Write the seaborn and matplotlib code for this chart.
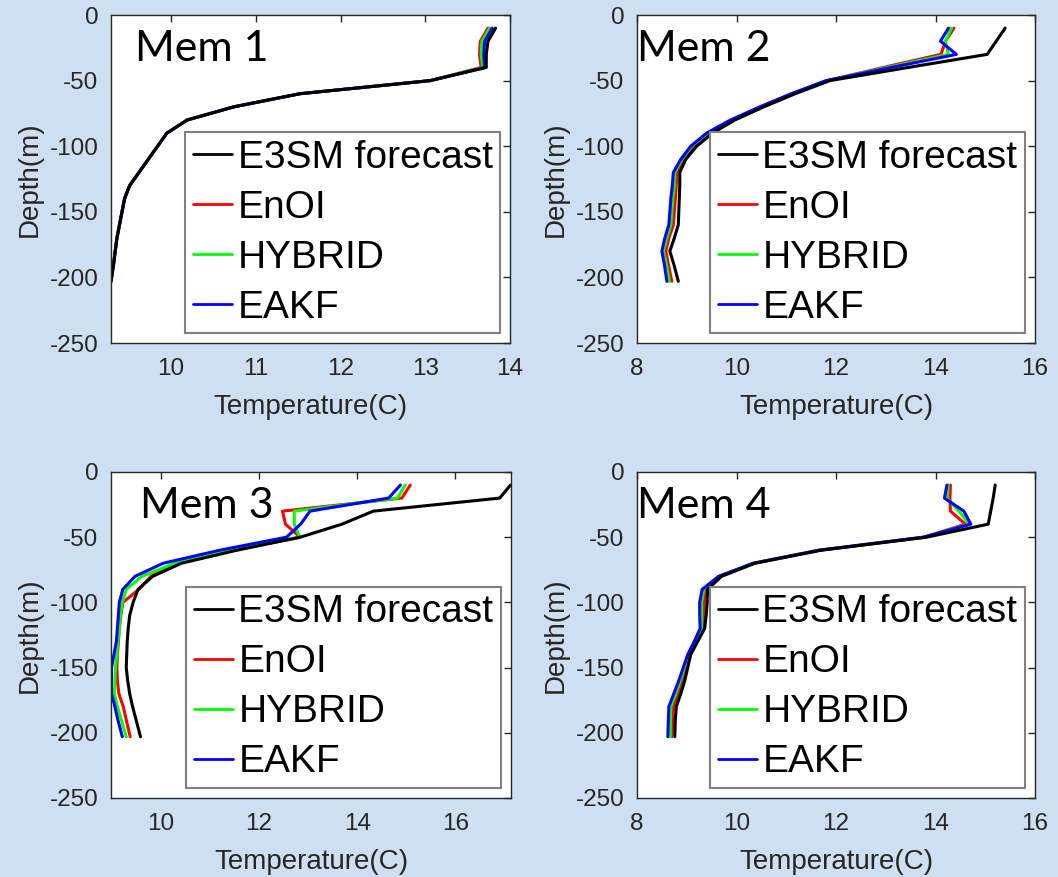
import matplotlib
matplotlib.use("Agg")
import matplotlib.pyplot as plt
from matplotlib.lines import Line2D
import numpy as np
import pandas as pd
import seaborn as sns

# ---------------- data ----------------
depth = [10, 20, 30, 40, 50, 60, 70, 80, 90, 100, 110, 120, 130, 140, 150, 160, 170, 180, 190, 203]
methods = ["E3SM forecast", "EnOI", "HYBRID", "EAKF"]
colors = ["#000000", "#ff0000", "#00ff00", "#0000ff"]
titles = ["Mem 1", "Mem 2", "Mem 3", "Mem 4"]

# Mem 1
e3sm_1 = [13.83, 13.74, 13.72, 13.72, 13.06, 11.52, 10.74, 10.19, 9.95, 9.84, 9.73, 9.62, 9.51, 9.45, 9.42, 9.39, 9.36, 9.34, 9.32, 9.29]
enoi_1 = [13.74, 13.65, 13.64, 13.66, 13.06, 11.52, 10.74, 10.19, 9.95, 9.84, 9.73, 9.62, 9.51, 9.45, 9.42, 9.39, 9.36, 9.34, 9.32, 9.29]
hybrid_1 = [13.76, 13.67, 13.66, 13.68, 13.06, 11.52, 10.74, 10.19, 9.95, 9.84, 9.73, 9.62, 9.51, 9.45, 9.42, 9.39, 9.36, 9.34, 9.32, 9.29]
eakf_1 = [13.79, 13.70, 13.69, 13.70, 13.06, 11.52, 10.74, 10.19, 9.95, 9.84, 9.73, 9.62, 9.51, 9.45, 9.42, 9.39, 9.36, 9.34, 9.32, 9.29]

# Mem 2
e3sm_2 = [15.40, 15.22, 15.04, 13.45, 11.88, 11.18, 10.55, 9.97, 9.52, 9.20, 8.98, 8.86, 8.86, 8.85, 8.84, 8.83, 8.75, 8.66, 8.74, 8.83]
enoi_2 = [14.37, 14.20, 14.11, 12.95, 11.83, 11.13, 10.50, 9.93, 9.45, 9.13, 8.93, 8.80, 8.79, 8.77, 8.75, 8.73, 8.64, 8.58, 8.63, 8.70]
hybrid_2 = [14.32, 14.20, 14.26, 13.03, 11.82, 11.12, 10.49, 9.90, 9.42, 9.10, 8.90, 8.76, 8.75, 8.72, 8.70, 8.68, 8.60, 8.53, 8.59, 8.65]
eakf_2 = [14.26, 14.10, 14.42, 13.11, 11.80, 11.10, 10.47, 9.88, 9.40, 9.08, 8.88, 8.73, 8.71, 8.68, 8.66, 8.64, 8.56, 8.50, 8.55, 8.60]

# Mem 3
e3sm_3 = [17.12, 16.90, 14.33, 13.69, 12.84, 11.55, 10.42, 9.84, 9.54, 9.44, 9.37, 9.34, 9.32, 9.31, 9.30, 9.33, 9.37, 9.43, 9.50, 9.59]
enoi_3 = [15.08, 14.91, 12.48, 12.54, 12.84, 11.48, 10.36, 9.80, 9.56, 9.23, 9.19, 9.16, 9.14, 9.12, 9.11, 9.12, 9.15, 9.24, 9.30, 9.38]
hybrid_3 = [14.98, 14.82, 12.72, 12.72, 12.83, 11.38, 10.29, 9.62, 9.30, 9.22, 9.18, 9.16, 9.13, 9.11, 9.08, 9.07, 9.06, 9.12, 9.20, 9.30]
eakf_3 = [14.88, 14.64, 13.04, 12.85, 12.56, 11.20, 10.05, 9.48, 9.23, 9.16, 9.14, 9.12, 9.10, 9.05, 9.00, 9.00, 9.00, 9.07, 9.13, 9.22]

# Mem 4
e3sm_4 = [15.20, 15.16, 15.11, 15.06, 13.82, 11.70, 10.37, 9.70, 9.42, 9.41, 9.39, 9.36, 9.22, 9.08, 9.02, 8.96, 8.88, 8.79, 8.77, 8.76]
enoi_4 = [14.30, 14.29, 14.30, 14.60, 13.78, 11.67, 10.35, 9.67, 9.37, 9.35, 9.34, 9.32, 9.19, 9.05, 8.98, 8.91, 8.83, 8.73, 8.72, 8.70]
hybrid_4 = [14.26, 14.23, 14.47, 14.68, 13.76, 11.66, 10.34, 9.65, 9.34, 9.30, 9.30, 9.30, 9.17, 9.03, 8.95, 8.87, 8.78, 8.68, 8.67, 8.67]
eakf_4 = [14.23, 14.18, 14.57, 14.71, 13.75, 11.65, 10.33, 9.64, 9.31, 9.26, 9.26, 9.27, 9.15, 9.02, 8.93, 8.84, 8.74, 8.64, 8.63, 8.62]

panels = [
    [e3sm_1, enoi_1, hybrid_1, eakf_1],
    [e3sm_2, enoi_2, hybrid_2, eakf_2],
    [e3sm_3, enoi_3, hybrid_3, eakf_3],
    [e3sm_4, enoi_4, hybrid_4, eakf_4],
]
xlims = [(9.29, 14.0), (8.0, 16.0), (8.99, 17.13), (8.0, 16.0)]
xticks = [[10, 11, 12, 13, 14], [8, 10, 12, 14, 16], [10, 12, 14, 16], [8, 10, 12, 14, 16]]
yticks = [0, -50, -100, -150, -200, -250]

# ---------------- style ----------------
bg = "#cddff0"
sns.set_theme(style="white")
plt.rcParams["font.family"] = ["Liberation Sans", "DejaVu Sans"]
plt.rcParams["axes.unicode_minus"] = False

W, H = 1058, 877
fig = plt.figure(figsize=(W / 100, H / 100), dpi=100, facecolor=bg)

# axes boxes in pixels: (left, top, right, bottom)
boxes = [(111, 15, 510, 343), (637, 15, 1035, 343), (111, 472, 511, 798), (637, 472, 1035, 798)]
title_x = [0.06, 0.0, 0.073, 0.0]

for i, (l, t, r, b) in enumerate(boxes):
    ax = fig.add_axes([l / W, 1 - b / H, (r - l) / W, (b - t) / H])
    ax.set_facecolor("white")
    rows = []
    for m, vals in zip(methods, panels[i]):
        for d, v in zip(depth, vals):
            rows.append({"Temperature": v, "Depth": -d, "Method": m})
    df = pd.DataFrame(rows)
    sns.lineplot(data=df, x="Temperature", y="Depth", hue="Method", hue_order=methods,
                 palette=colors, sort=False, estimator=None, linewidth=2.2, ax=ax, legend=False)
    ax.lines[0].set_zorder(2.5)

    ax.set_xlim(*xlims[i])
    ax.set_ylim(-250, 0)
    ax.set_xticks(xticks[i])
    ax.set_yticks(yticks)
    ax.set_xticklabels([str(v) for v in xticks[i]])
    ax.set_yticklabels([str(v) for v in yticks])
    ax.tick_params(direction="in", length=5, width=1, top=True, right=True,
                   labelsize=17.5, colors="#262626", pad=9)
    ax.tick_params(axis="x", pad=11)
    for s in ax.spines.values():
        s.set_color("#262626")
        s.set_linewidth(1.0)
        s.set_visible(True)
    ax.set_xlabel("Temperature(C)", fontsize=20, color="#262626", labelpad=10)
    ax.set_ylabel("Depth(m)", fontsize=20, color="#262626", labelpad=5)

    ax.text(title_x[i], 0.86, titles[i], transform=ax.transAxes, fontsize=31,
            family=["Lato", "DejaVu Sans"], color="black", ha="left", va="baseline")

    handles = [Line2D([0], [0], color=c, lw=2) for c in colors]
    leg = ax.legend(handles, methods, loc="lower right", fontsize=28, frameon=True,
                    fancybox=False, framealpha=1, facecolor="white", edgecolor="#808080",
                    handlelength=1.0, handletextpad=0.15, labelspacing=0.36,
                    borderpad=0.2, borderaxespad=0.25, labelcolor="black")
    leg.get_frame().set_linewidth(1.5)

fig.savefig("out.png", dpi=100, facecolor=bg)
